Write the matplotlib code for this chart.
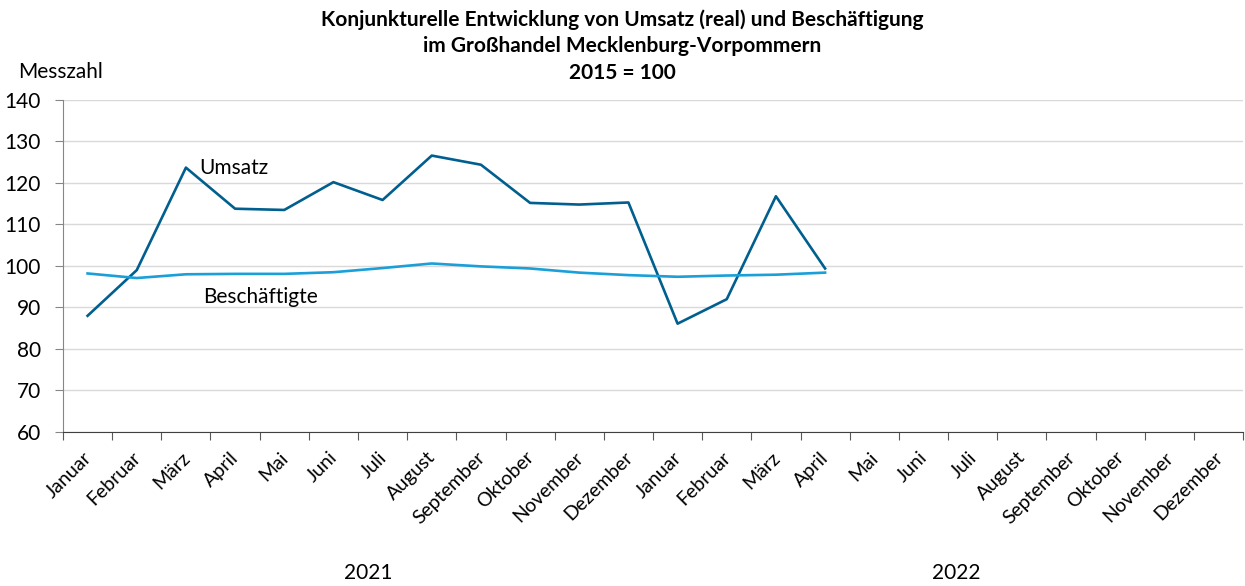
import numpy as np
import matplotlib
matplotlib.use("Agg")
import matplotlib.pyplot as plt

plt.rcParams['font.family'] = ['Lato', 'DejaVu Sans']

# Daten
monate = ["Januar", "Februar", "März", "April", "Mai", "Juni", "Juli", "August",
          "September", "Oktober", "November", "Dezember"]
jahre = ["2021", "2022"]
umsatz = [88.0, 99.0, 123.7, 113.8, 113.5, 120.2, 115.9, 126.6, 124.4, 115.2,
          114.8, 115.3, 86.1, 92.0, 116.8, 99.4]
beschaeftigte = [98.2, 97.1, 98.0, 98.1, 98.1, 98.5, 99.5, 100.6, 99.9, 99.4,
                 98.4, 97.8, 97.4, 97.7, 97.9, 98.4]

labels = monate * 2
n = len(labels)

fig = plt.figure(figsize=(12.45, 5.86), dpi=100)
ax = fig.add_axes([0.0506, 0.2628, 0.9478, 0.5666])

x = np.arange(len(umsatz))
ax.plot(x, umsatz, color='#005f8e', lw=1.9, zorder=3)
ax.plot(np.arange(len(beschaeftigte)), beschaeftigte, color='#1a9fd9', lw=1.9, zorder=3)

ax.set_xlim(-0.5, n - 0.5)
ax.set_ylim(60, 140)
ax.set_yticks(np.arange(60, 141, 10))
ax.grid(axis='y', color='#d9d9d9', lw=1)
ax.set_axisbelow(True)

# Striche an den Grenzen, Beschriftung in der Mitte
ax.set_xticks(np.arange(n + 1) - 0.5)
ax.set_xticklabels([])
ax.set_xticks(np.arange(n) - 0.1, minor=True)
ax.set_xticklabels(labels, minor=True, rotation=45, ha='right', va='top',
                   rotation_mode='anchor', fontsize=14)
ax.tick_params(axis='x', which='major', length=6, color='#595959', direction='out')
ax.tick_params(axis='x', which='minor', length=0, pad=12)
ax.tick_params(axis='y', length=6, color='#868686', labelsize=15, pad=10)

for s in ['top', 'right']:
    ax.spines[s].set_visible(False)
ax.spines['left'].set_color('#868686')
ax.spines['bottom'].set_color('#404040')

ax.text(2.28, 123.6, "Umsatz", fontsize=15, va='center', ha='left')
ax.text(2.34, 92.5, "Beschäftigte", fontsize=15, va='center', ha='left')

ax.text(0.259, -0.425, jahre[0], transform=ax.transAxes, ha='center', va='center', fontsize=15)
ax.text(0.757, -0.425, jahre[1], transform=ax.transAxes, ha='center', va='center', fontsize=15)

fig.text(0.5, 0.966, "Konjunkturelle Entwicklung von Umsatz (real) und Beschäftigung",
         ha='center', va='center', fontsize=15, fontweight='bold')
fig.text(0.5, 0.921, "im Großhandel Mecklenburg-Vorpommern",
         ha='center', va='center', fontsize=15, fontweight='bold')
fig.text(0.5, 0.876, "2015 = 100", ha='center', va='center', fontsize=15, fontweight='bold')
fig.text(0.0145, 0.877, "Messzahl", ha='left', va='center', fontsize=15)

fig.savefig("out.png", dpi=100)
